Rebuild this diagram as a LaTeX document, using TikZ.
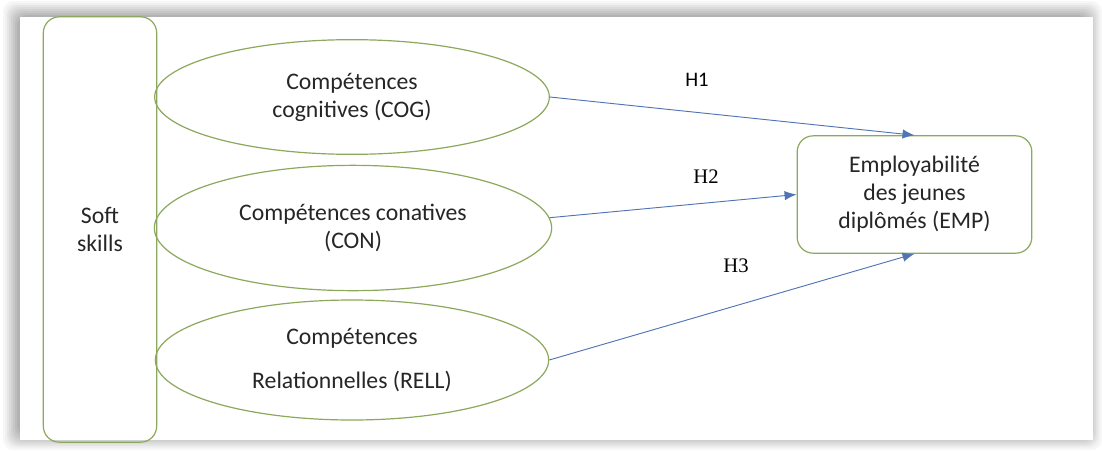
\documentclass[tikz,border=0pt]{standalone}
\usepackage{fontspec}
\setmainfont{Carlito}
\newfontfamily\hfont{Liberation Serif}
\usetikzlibrary{shapes.geometric, arrows.meta}

\definecolor{skillgreen}{RGB}{140,168,92}
\definecolor{linkblue}{RGB}{68,114,196}
\definecolor{inktext}{RGB}{38,38,38}

\tikzset{
  skillbox/.style={draw=skillgreen, line width=0.9pt, rounded corners=12pt,
    align=center, text=inktext},
  skillell/.style={ellipse, draw=skillgreen, line width=0.9pt, inner sep=0pt,
    minimum width=296pt, align=center, text=inktext},
  link/.style={draw=linkblue!80!gray, line width=0.7pt,
    -{Latex[length=9pt,width=7pt]}},
  hlab/.style={font=\fontsize{15.5}{18}\selectfont, text=black}
}

\begin{document}
\begin{tikzpicture}[x=0.75pt,y=-0.75pt,
    font=\fontsize{17.8}{21}\selectfont]
      \useasboundingbox (0,0) rectangle (1102,450);
      \fill[white] (0,0) rectangle (1102,450);

      % shadowed frame
      \foreach \d/\g in {0/3,2/6,4/10,6/14,8/18,10/22,12/26,14/30}
               {
                 \fill[black!\g,rounded corners=8pt] (3+\d,1+\d)
                 rectangle (1102-\d,450-\d);
               }
      \fill[white] (20,17) rectangle (1093,440);

      % left block
      \node[skillbox, minimum width=85pt, minimum height=319pt]
        (soft) at (100,229.5) {Soft\\skills};

      % the three competences
      \node[skillell, minimum height=86pt]
        (cog) at (352,97) {Compétences\\cognitives (COG)};
      \node[skillell, minimum width=298pt, minimum height=94pt]
        (con) at (353,228) {Compétences conatives\\(CON)};
      \node[skillell, minimum width=295pt, minimum height=90pt]
        (rell) at (352,360) {Compétences\\[12pt]Relationnelles (RELL)};

      % outcome
      \node[skillbox, minimum width=176pt, minimum height=88pt]
        (emp) at (914.5,194.5) {Employabilité\\des jeunes\\diplômés (EMP)};

      % hypotheses
      \draw[link] (cog.east) -- (emp.north);
      \draw[link] (con.3) -- (emp.west);
      \draw[link] (rell.east) -- (emp.south);

      \node[hlab] (h1) at (697,80) {H1};
      \node[hlab] (h2) at (706,177) {\hfont H2};
      \node[hlab] (h3) at (736,266) {\hfont H3};
\end{tikzpicture}
\end{document}
